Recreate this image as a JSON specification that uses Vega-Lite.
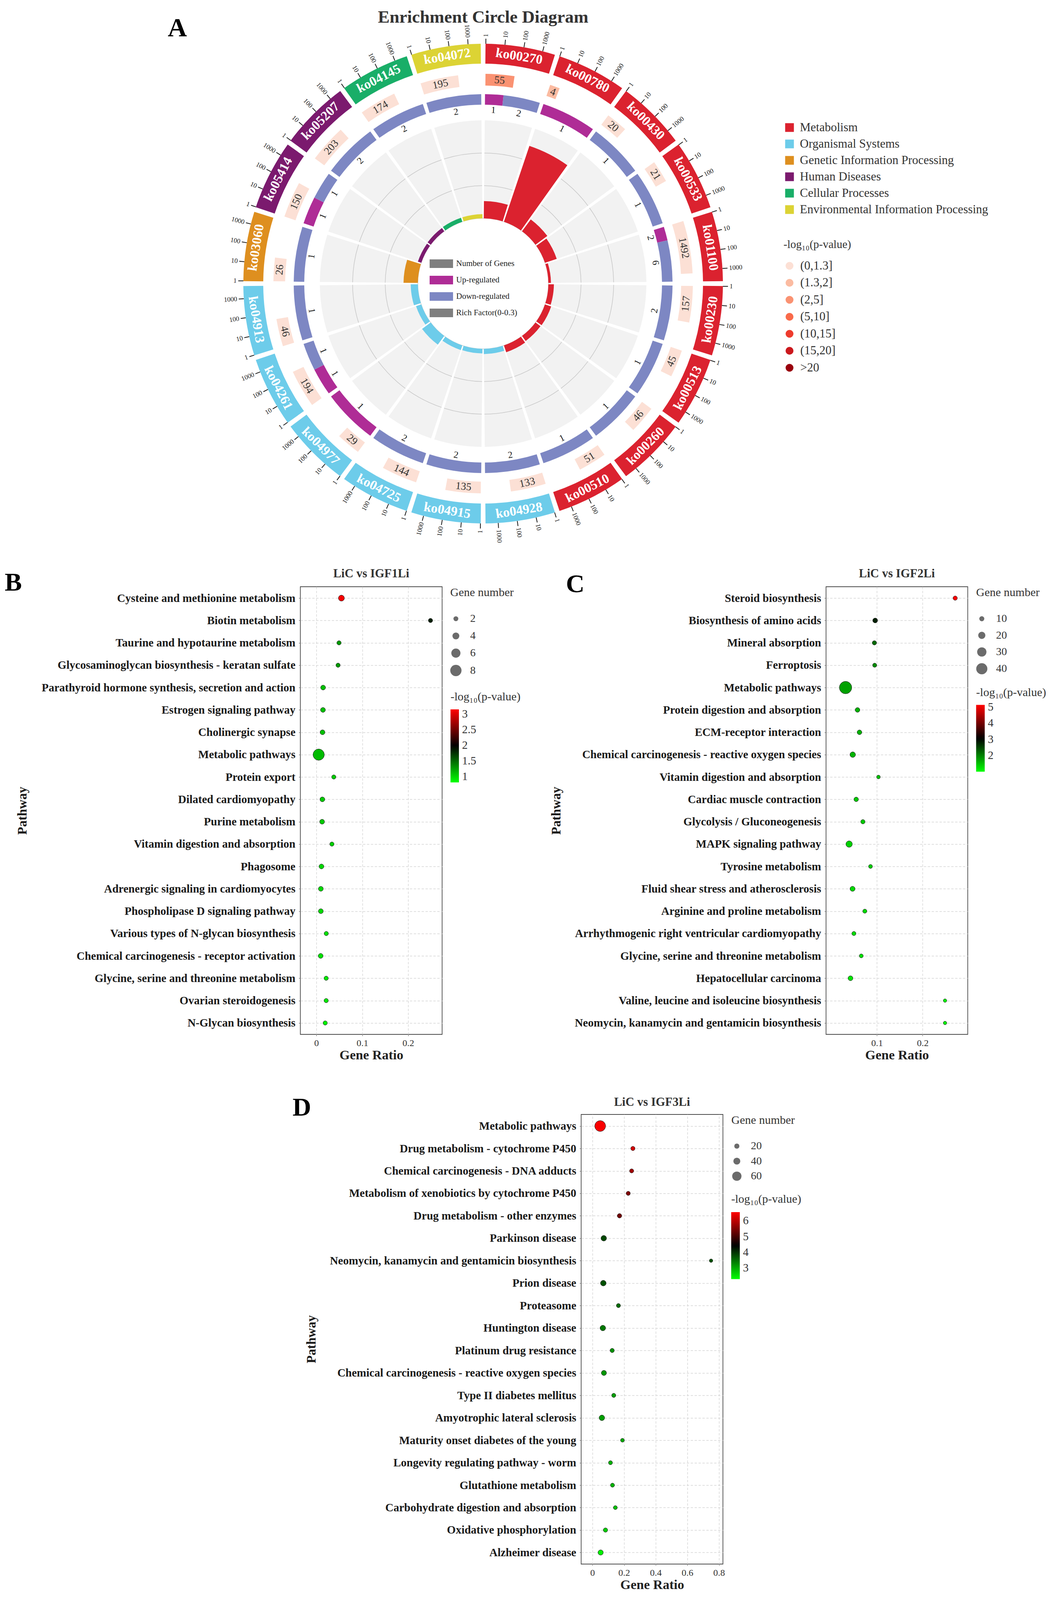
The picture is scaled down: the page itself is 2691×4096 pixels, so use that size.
{
"$schema":"https://vega.github.io/schema/vega-lite/v6.json",
"padding":0,
"background":"white",
"config":{"font":"Liberation Serif","view":{"stroke":null},
"title":{"font":"Liberation Serif","fontWeight":"bold","color":"#222222"},
"axis":{"labelFont":"Liberation Serif","titleFont":"Liberation Serif"},
"legend":{"labelFont":"Liberation Serif","titleFont":"Liberation Serif","labelLimit":0,"titleLimit":0,"padding":0}},
"datasets":{
"sectors":[
{"s":0,"id":"ko00270","cat":"Metabolism","genes":55,"gEnd":0.479,"gMid":0.2575,"pbin":"(2,5]","rf":0.053},
{"s":1,"id":"ko00780","cat":"Metabolism","genes":4,"gEnd":1.189,"gMid":1.1125,"pbin":"(1.3,2]","rf":0.245},
{"s":2,"id":"ko00430","cat":"Metabolism","genes":20,"gEnd":2.367,"gMid":2.2015,"pbin":"(0,1.3]","rf":0.045},
{"s":3,"id":"ko00533","cat":"Metabolism","genes":21,"gEnd":3.3725,"gMid":3.2043,"pbin":"(0,1.3]","rf":0.038},
{"s":4,"id":"ko01100","cat":"Metabolism","genes":1492,"gEnd":4.844,"gMid":4.44,"pbin":"(0,1.3]","rf":0.008},
{"s":5,"id":"ko00230","cat":"Metabolism","genes":157,"gEnd":5.595,"gMid":5.3155,"pbin":"(0,1.3]","rf":0.017},
{"s":6,"id":"ko00513","cat":"Metabolism","genes":45,"gEnd":6.457,"gMid":6.2465,"pbin":"(0,1.3]","rf":0.02},
{"s":7,"id":"ko00260","cat":"Metabolism","genes":46,"gEnd":7.459,"gMid":7.2475,"pbin":"(0,1.3]","rf":0.019},
{"s":8,"id":"ko00510","cat":"Metabolism","genes":51,"gEnd":8.471,"gMid":8.2535,"pbin":"(0,1.3]","rf":0.022},
{"s":9,"id":"ko04928","cat":"Organismal Systems","genes":133,"gEnd":9.577,"gMid":9.3065,"pbin":"(0,1.3]","rf":0.016},
{"s":10,"id":"ko04915","cat":"Organismal Systems","genes":135,"gEnd":10.578,"gMid":10.307,"pbin":"(0,1.3]","rf":0.014},
{"s":11,"id":"ko04725","cat":"Organismal Systems","genes":144,"gEnd":11.585,"gMid":11.3105,"pbin":"(0,1.3]","rf":0.015},
{"s":12,"id":"ko04977","cat":"Organismal Systems","genes":29,"gEnd":12.408,"gMid":12.222,"pbin":"(0,1.3]","rf":0.033},
{"s":13,"id":"ko04261","cat":"Organismal Systems","genes":194,"gEnd":13.618,"gMid":13.327,"pbin":"(0,1.3]","rf":0.017},
{"s":14,"id":"ko04913","cat":"Organismal Systems","genes":46,"gEnd":14.459,"gMid":14.2475,"pbin":"(0,1.3]","rf":0.022},
{"s":15,"id":"ko03060","cat":"Genetic Information Processing","genes":26,"gEnd":15.396,"gMid":15.216,"pbin":"(0,1.3]","rf":0.044},
{"s":16,"id":"ko05414","cat":"Human Diseases","genes":150,"gEnd":16.59,"gMid":16.313,"pbin":"(0,1.3]","rf":0.011},
{"s":17,"id":"ko05207","cat":"Human Diseases","genes":203,"gEnd":17.623,"gMid":17.3295,"pbin":"(0,1.3]","rf":0.012},
{"s":18,"id":"ko04145","cat":"Cellular Processes","genes":174,"gEnd":18.606,"gMid":18.321,"pbin":"(0,1.3]","rf":0.013},
{"s":19,"id":"ko04072","cat":"Environmental Information Processing","genes":195,"gEnd":19.619,"gMid":19.3275,"pbin":"(0,1.3]","rf":0.013}
],
"updown":[
{"s":0,"dir":"Up-regulated","n":1,"t0":0.032,"t1":0.344,"tm":0.188},
{"s":0,"dir":"Down-regulated","n":2,"t0":0.344,"t1":0.968,"tm":0.656},
{"s":1,"dir":"Up-regulated","n":1,"t0":1.032,"t1":1.968,"tm":1.5},
{"s":2,"dir":"Down-regulated","n":1,"t0":2.032,"t1":2.968,"tm":2.5},
{"s":3,"dir":"Down-regulated","n":1,"t0":3.032,"t1":3.968,"tm":3.5},
{"s":4,"dir":"Up-regulated","n":2,"t0":4.032,"t1":4.266,"tm":4.149},
{"s":4,"dir":"Down-regulated","n":6,"t0":4.266,"t1":4.968,"tm":4.617},
{"s":5,"dir":"Down-regulated","n":2,"t0":5.032,"t1":5.968,"tm":5.5},
{"s":6,"dir":"Down-regulated","n":1,"t0":6.032,"t1":6.968,"tm":6.5},
{"s":7,"dir":"Down-regulated","n":1,"t0":7.032,"t1":7.968,"tm":7.5},
{"s":8,"dir":"Down-regulated","n":1,"t0":8.032,"t1":8.968,"tm":8.5},
{"s":9,"dir":"Down-regulated","n":2,"t0":9.032,"t1":9.968,"tm":9.5},
{"s":10,"dir":"Down-regulated","n":2,"t0":10.032,"t1":10.968,"tm":10.5},
{"s":11,"dir":"Down-regulated","n":2,"t0":11.032,"t1":11.968,"tm":11.5},
{"s":12,"dir":"Up-regulated","n":1,"t0":12.032,"t1":12.968,"tm":12.5},
{"s":13,"dir":"Up-regulated","n":1,"t0":13.032,"t1":13.5,"tm":13.266},
{"s":13,"dir":"Down-regulated","n":1,"t0":13.5,"t1":13.968,"tm":13.734},
{"s":14,"dir":"Down-regulated","n":1,"t0":14.032,"t1":14.968,"tm":14.5},
{"s":15,"dir":"Down-regulated","n":1,"t0":15.032,"t1":15.968,"tm":15.5},
{"s":16,"dir":"Up-regulated","n":1,"t0":16.032,"t1":16.5,"tm":16.266},
{"s":16,"dir":"Down-regulated","n":1,"t0":16.5,"t1":16.968,"tm":16.734},
{"s":17,"dir":"Down-regulated","n":2,"t0":17.032,"t1":17.968,"tm":17.5},
{"s":18,"dir":"Down-regulated","n":2,"t0":18.032,"t1":18.968,"tm":18.5},
{"s":19,"dir":"Down-regulated","n":2,"t0":19.032,"t1":19.968,"tm":19.5}
],
"B":[
{"pathway":"Cysteine and methionine metabolism","ratio":0.0545,"count":3,"p":3.1},
{"pathway":"Biotin metabolism","ratio":0.2487,"count":1,"p":1.84},
{"pathway":"Taurine and hypotaurine metabolism","ratio":0.0493,"count":1,"p":1.28},
{"pathway":"Glycosaminoglycan biosynthesis - keratan sulfate","ratio":0.0472,"count":1,"p":1.28},
{"pathway":"Parathyroid hormone synthesis, secretion and action","ratio":0.0146,"count":2,"p":1.1},
{"pathway":"Estrogen signaling pathway","ratio":0.0143,"count":2,"p":1.1},
{"pathway":"Cholinergic synapse","ratio":0.0133,"count":2,"p":1.1},
{"pathway":"Metabolic pathways","ratio":0.005,"count":8,"p":1.12},
{"pathway":"Protein export","ratio":0.0379,"count":1,"p":1.06},
{"pathway":"Dilated cardiomyopathy","ratio":0.013,"count":2,"p":1.06},
{"pathway":"Purine metabolism","ratio":0.0124,"count":2,"p":1.06},
{"pathway":"Vitamin digestion and absorption","ratio":0.0338,"count":1,"p":1.02},
{"pathway":"Phagosome","ratio":0.011,"count":2,"p":1.0},
{"pathway":"Adrenergic signaling in cardiomyocytes","ratio":0.0097,"count":2,"p":0.99},
{"pathway":"Phospholipase D signaling pathway","ratio":0.0097,"count":2,"p":0.99},
{"pathway":"Various types of N-glycan biosynthesis","ratio":0.0215,"count":1,"p":0.95},
{"pathway":"Chemical carcinogenesis - receptor activation","ratio":0.0093,"count":2,"p":0.95},
{"pathway":"Glycine, serine and threonine metabolism","ratio":0.0213,"count":1,"p":0.92},
{"pathway":"Ovarian steroidogenesis","ratio":0.0213,"count":1,"p":0.92},
{"pathway":"N-Glycan biosynthesis","ratio":0.0192,"count":1,"p":0.88}
],
"C":[
{"pathway":"Steroid biosynthesis","ratio":0.2715,"count":6,"p":5.1},
{"pathway":"Biosynthesis of amino acids","ratio":0.0961,"count":9,"p":2.8},
{"pathway":"Mineral absorption","ratio":0.0944,"count":6,"p":2.2},
{"pathway":"Ferroptosis","ratio":0.095,"count":5,"p":1.93},
{"pathway":"Metabolic pathways","ratio":0.0312,"count":46,"p":1.75},
{"pathway":"Protein digestion and absorption","ratio":0.0574,"count":8,"p":1.62},
{"pathway":"ECM-receptor interaction","ratio":0.0617,"count":8,"p":1.62},
{"pathway":"Chemical carcinogenesis - reactive oxygen species","ratio":0.0469,"count":12,"p":1.59},
{"pathway":"Vitamin digestion and absorption","ratio":0.1033,"count":3,"p":1.49},
{"pathway":"Cardiac muscle contraction","ratio":0.0545,"count":7,"p":1.43},
{"pathway":"Glycolysis / Gluconeogenesis","ratio":0.0692,"count":6,"p":1.43},
{"pathway":"MAPK signaling pathway","ratio":0.039,"count":16,"p":1.36},
{"pathway":"Tyrosine metabolism","ratio":0.0859,"count":4,"p":1.4},
{"pathway":"Fluid shear stress and atherosclerosis","ratio":0.0465,"count":10,"p":1.3},
{"pathway":"Arginine and proline metabolism","ratio":0.0734,"count":5,"p":1.3},
{"pathway":"Arrhythmogenic right ventricular cardiomyopathy","ratio":0.0495,"count":5,"p":1.28},
{"pathway":"Glycine, serine and threonine metabolism","ratio":0.0656,"count":4,"p":1.23},
{"pathway":"Hepatocellular carcinoma","ratio":0.042,"count":9,"p":1.2},
{"pathway":"Valine, leucine and isoleucine biosynthesis","ratio":0.2492,"count":2,"p":1.1},
{"pathway":"Neomycin, kanamycin and gentamicin biosynthesis","ratio":0.2492,"count":2,"p":1.1}
],
"D":[
{"pathway":"Metabolic pathways","ratio":0.0492,"count":73,"p":6.5},
{"pathway":"Drug metabolism - cytochrome P450","ratio":0.256,"count":10,"p":6.16},
{"pathway":"Chemical carcinogenesis - DNA adducts","ratio":0.248,"count":9,"p":5.76},
{"pathway":"Metabolism of xenobiotics by cytochrome P450","ratio":0.2265,"count":9,"p":5.5},
{"pathway":"Drug metabolism - other enzymes","ratio":0.1714,"count":12,"p":5.36},
{"pathway":"Parkinson disease","ratio":0.0719,"count":24,"p":3.83},
{"pathway":"Neomycin, kanamycin and gentamicin biosynthesis","ratio":0.75,"count":3,"p":3.76},
{"pathway":"Prion disease","ratio":0.069,"count":25,"p":3.76},
{"pathway":"Proteasome","ratio":0.1645,"count":9,"p":3.54},
{"pathway":"Huntington disease","ratio":0.066,"count":24,"p":3.43},
{"pathway":"Platinum drug resistance","ratio":0.125,"count":10,"p":3.23},
{"pathway":"Chemical carcinogenesis - reactive oxygen species","ratio":0.0729,"count":20,"p":3.18},
{"pathway":"Type II diabetes mellitus","ratio":0.135,"count":9,"p":3.11},
{"pathway":"Amyotrophic lateral sclerosis","ratio":0.06,"count":24,"p":3.11},
{"pathway":"Maturity onset diabetes of the young","ratio":0.19,"count":6,"p":3.03},
{"pathway":"Longevity regulating pathway - worm","ratio":0.1143,"count":8,"p":2.96},
{"pathway":"Glutathione metabolism","ratio":0.127,"count":8,"p":2.93},
{"pathway":"Carbohydrate digestion and absorption","ratio":0.145,"count":7,"p":2.84},
{"pathway":"Oxidative phosphorylation","ratio":0.0827,"count":11,"p":2.73},
{"pathway":"Alzheimer disease","ratio":0.0522,"count":21,"p":2.43}
]
},
"columns":5,
"spacing":0,
"bounds":"flush",
"align":"each",
"resolve":{"scale":{"color":"independent","size":"independent","angle":"independent","radius":"independent","theta":"independent"}},
"concat":[
{"width":769,"height":1502,"data":{"values":[]},"mark":{"type":"point","opacity":0},
 "title":{"text":"A","anchor":"start","frame":"group","orient":"top","offset":-161,"dx":429.5,"fontSize":68,"fontWeight":"bold","baseline":"alphabetic","align":"left","color":"#000000"}},
{"width":467,"height":1,"data":{"values":[]},"mark":{"type":"point","opacity":0}},
{"width":2,"height":1452,
 "title":{"text":"Enrichment Circle Diagram","anchor":"middle","frame":"group","offset":-103,"baseline":"alphabetic","fontSize":45,"color":"#333333"},
 "resolve":{"scale":{"color":"independent","angle":"independent","radius":"independent"}},
 "layer":[
  {"data":{"name":"sectors"},"mark":{"type":"arc","radius":418,"radius2":167,"thetaOffset":0.010053,"theta2Offset":0.304106,"color":"#F2F2F2"},
   "encoding":{"theta":{"field":"s","type":"quantitative","scale":{"domain":[0,20],"range":[0,6.283185],"zero":false,"nice":false}},"theta2":{"field":"s"}}},
  {"data":{"name":"sectors"},"mark":{"type":"arc","radius":251.5,"radius2":250,"thetaOffset":0.010053,"theta2Offset":0.304106,"color":"#C8C8C8"},
   "encoding":{"theta":{"field":"s","type":"quantitative","scale":{"domain":[0,20],"range":[0,6.283185],"zero":false,"nice":false}},"theta2":{"field":"s"}}},
  {"data":{"name":"sectors"},"mark":{"type":"arc","radius":335,"radius2":333.5,"thetaOffset":0.010053,"theta2Offset":0.304106,"color":"#C8C8C8"},
   "encoding":{"theta":{"field":"s","type":"quantitative","scale":{"domain":[0,20],"range":[0,6.283185],"zero":false,"nice":false}},"theta2":{"field":"s"}}},
  {"data":{"values":[{}]},"mark":{"type":"arc","theta":0,"theta2":6.2832,"radius":168,"radius2":166.5,"color":"#D0D0D0"},"encoding":{}},
  {"data":{"name":"sectors"},"mark":{"type":"arc","thetaOffset":0.010053,"theta2Offset":0.304106},
   "encoding":{"theta":{"field":"s","type":"quantitative","scale":{"domain":[0,20],"range":[0,6.283185],"zero":false,"nice":false}},"theta2":{"field":"s"},
    "radius":{"field":"rf","type":"quantitative","scale":{"type":"linear","domain":[0,0.3],"range":[167,418],"zero":false,"nice":false}},
    "radius2":{"datum":0},
    "color":{"field":"cat","type":"nominal","scale":{"domain":["Metabolism","Organismal Systems","Genetic Information Processing","Human Diseases","Cellular Processes","Environmental Information Processing"],"range":["#DB222F","#6DCCEA","#DE8F1F","#7B1A6E","#19AE68","#DCD334"]},"legend":null}}},
  {"data":{"name":"updown"},"mark":{"type":"arc","radius":485,"radius2":458},
   "encoding":{"theta":{"field":"t0","type":"quantitative","scale":{"domain":[0,20],"range":[0,6.283185],"zero":false,"nice":false}},"theta2":{"field":"t1"},
    "color":{"field":"dir","type":"nominal","scale":{"domain":["Number of Genes","Up-regulated","Down-regulated","Rich Factor(0-0.3)"],"range":["#7F7F7F","#AF2C96","#7D87C3","#7F7F7F"]},
     "legend":{"title":null,"orient":"none","legendX":-136,"legendY":645,"symbolType":"M-1,-0.37H1V0.37H-1Z","symbolSize":3600,"labelFontSize":21,"labelColor":"#222222","labelOffset":8,"rowPadding":0,"symbolStrokeWidth":0,"symbolOpacity":1}}}},
  {"data":{"name":"updown"},"mark":{"type":"text","radius":444.5,"fontSize":24,"color":"#1A1A1A","align":"center","baseline":"middle"},
   "encoding":{"theta":{"field":"tm","type":"quantitative","scale":{"domain":[0,20],"range":[0,6.283185],"zero":false,"nice":false}},"text":{"field":"n"},
    "angle":{"field":"tm","type":"quantitative","scale":{"domain":[0,5,5.0001,15,15.0001,20],"range":[0,90,-89.998,90,-89.998,0],"zero":false,"nice":false}}}},
  {"data":{"name":"sectors"},"mark":{"type":"arc","radius":537,"radius2":507,"thetaOffset":0.01131},
   "encoding":{"theta":{"field":"s","type":"quantitative","scale":{"domain":[0,20],"range":[0,6.283185],"zero":false,"nice":false}},"theta2":{"field":"gEnd"},
    "color":{"field":"pbin","type":"nominal","scale":{"domain":["(0,1.3]","(1.3,2]","(2,5]","(5,10]","(10,15]","(15,20]",">20"],"range":["#FCE0D5","#FBBBA1","#FA9272","#F96A4A","#EE3B2D","#CB181D","#99000D"]},
     "legend":{"title":"-log₁₀(p-value)","orient":"none","legendX":770,"legendY":612,"symbolType":"circle","symbolSize":405,"labelFontSize":31,"labelColor":"#333333","labelOffset":12,"rowPadding":11.5,"titleFontSize":29,"titleFontWeight":"normal","titleColor":"#333333","titlePadding":24,"symbolStrokeWidth":0,"symbolOpacity":1}}}},
  {"data":{"name":"sectors"},"mark":{"type":"text","radius":522,"fontSize":27,"color":"#333333","align":"center","baseline":"middle"},
   "encoding":{"theta":{"field":"gMid","type":"quantitative","scale":{"domain":[0,20],"range":[0,6.283185],"zero":false,"nice":false}},"text":{"field":"genes"},
    "angle":{"field":"gMid","type":"quantitative","scale":{"domain":[0,5,5.0001,15,15.0001,20],"range":[0,90,-89.998,90,-89.998,0],"zero":false,"nice":false}}}},
  {"data":{"name":"sectors"},"mark":{"type":"arc","radius":614,"radius2":563,"thetaOffset":0.010053,"theta2Offset":0.304106},
   "encoding":{"theta":{"field":"s","type":"quantitative","scale":{"domain":[0,20],"range":[0,6.283185],"zero":false,"nice":false}},"theta2":{"field":"s"},
    "color":{"field":"cat","type":"nominal","scale":{"domain":["Metabolism","Organismal Systems","Genetic Information Processing","Human Diseases","Cellular Processes","Environmental Information Processing"],"range":["#DB222F","#6DCCEA","#DE8F1F","#7B1A6E","#19AE68","#DCD334"]},
     "legend":{"title":null,"orient":"none","legendX":770,"legendY":311,"symbolType":"square","symbolSize":500,"labelFontSize":31,"labelColor":"#333333","labelOffset":11,"rowPadding":10,"symbolStrokeWidth":0,"symbolOpacity":1}}}},
  {"data":{"name":"sectors"},"mark":{"type":"text","radius":588.5,"thetaOffset":0.15708,"fontSize":34,"fontWeight":"bold","color":"#FFFFFF","align":"center","baseline":"middle"},
   "encoding":{"theta":{"field":"s","type":"quantitative","scale":{"domain":[0,20],"range":[0,6.283185],"zero":false,"nice":false}},"text":{"field":"id"},
    "angle":{"field":"s","type":"quantitative","scale":{"domain":[0,4,5,14,15,19],"range":[9,81,-81,81,-81,-9],"zero":false,"nice":false}}}},
  {"data":{"name":"sectors"},"mark":{"type":"arc","radius":627,"radius2":614,"thetaOffset":0.00971,"theta2Offset":0.01291,"color":"#1A1A1A"},
   "encoding":{"theta":{"field":"s","type":"quantitative","scale":{"domain":[0,20],"range":[0,6.283185],"zero":false,"nice":false}},"theta2":{"field":"s"}}},
  {"data":{"name":"sectors"},"mark":{"type":"arc","radius":627,"radius2":614,"thetaOffset":0.089663,"theta2Offset":0.092863,"color":"#1A1A1A"},
   "encoding":{"theta":{"field":"s","type":"quantitative","scale":{"domain":[0,20],"range":[0,6.283185],"zero":false,"nice":false}},"theta2":{"field":"s"}}},
  {"data":{"name":"sectors"},"mark":{"type":"arc","radius":627,"radius2":614,"thetaOffset":0.169617,"theta2Offset":0.172817,"color":"#1A1A1A"},
   "encoding":{"theta":{"field":"s","type":"quantitative","scale":{"domain":[0,20],"range":[0,6.283185],"zero":false,"nice":false}},"theta2":{"field":"s"}}},
  {"data":{"name":"sectors"},"mark":{"type":"arc","radius":627,"radius2":614,"thetaOffset":0.24957,"theta2Offset":0.25277,"color":"#1A1A1A"},
   "encoding":{"theta":{"field":"s","type":"quantitative","scale":{"domain":[0,20],"range":[0,6.283185],"zero":false,"nice":false}},"theta2":{"field":"s"}}},
  {"data":{"name":"sectors"},"mark":{"type":"text","text":"1","radius":635.25,"thetaOffset":0.01131,"fontSize":17,"color":"#1A1A1A","align":"center","baseline":"middle"},
   "encoding":{"theta":{"field":"s","type":"quantitative","scale":{"domain":[0,20],"range":[0,6.283185],"zero":false,"nice":false}},
    "angle":{"field":"s","type":"quantitative","scale":{"domain":[0,9,10,19],"range":[-89.352,72.648,-89.352,72.648],"zero":false,"nice":false}}}},
  {"data":{"name":"sectors"},"mark":{"type":"text","text":"10","radius":639.5,"thetaOffset":0.091263,"fontSize":17,"color":"#1A1A1A","align":"center","baseline":"middle"},
   "encoding":{"theta":{"field":"s","type":"quantitative","scale":{"domain":[0,20],"range":[0,6.283185],"zero":false,"nice":false}},
    "angle":{"field":"s","type":"quantitative","scale":{"domain":[0,9,10,19],"range":[-84.771,77.229,-84.771,77.229],"zero":false,"nice":false}}}},
  {"data":{"name":"sectors"},"mark":{"type":"text","text":"100","radius":643.75,"thetaOffset":0.171217,"fontSize":17,"color":"#1A1A1A","align":"center","baseline":"middle"},
   "encoding":{"theta":{"field":"s","type":"quantitative","scale":{"domain":[0,20],"range":[0,6.283185],"zero":false,"nice":false}},
    "angle":{"field":"s","type":"quantitative","scale":{"domain":[0,9,10,19],"range":[-80.19,81.81,-80.19,81.81],"zero":false,"nice":false}}}},
  {"data":{"name":"sectors"},"mark":{"type":"text","text":"1000","radius":648,"thetaOffset":0.25117,"fontSize":17,"color":"#1A1A1A","align":"center","baseline":"middle"},
   "encoding":{"theta":{"field":"s","type":"quantitative","scale":{"domain":[0,20],"range":[0,6.283185],"zero":false,"nice":false}},
    "angle":{"field":"s","type":"quantitative","scale":{"domain":[0,9,10,19],"range":[-75.609,86.391,-75.609,86.391],"zero":false,"nice":false}}}}
 ]},
{"width":1,"height":1,"data":{"values":[]},"mark":{"type":"point","opacity":0}},
{"width":1,"height":1,"data":{"values":[]},"mark":{"type":"point","opacity":0}},
{"width":769,"height":1351,"data":{"values":[]},"mark":{"type":"point","opacity":0},
 "title":{"text":"B","anchor":"start","frame":"group","orient":"top","offset":-76,"dx":12,"fontSize":66,"fontWeight":"bold","baseline":"alphabetic","align":"left","color":"#000000"}},
{"width":363,"height":1146,"view":{"stroke":"#4D4D4D","strokeWidth":1.8},
 "title":{"text":"LiC vs IGF1Li","anchor":"middle","frame":"group","offset":-7,"baseline":"alphabetic","fontSize":31,"color":"#333333"},
 "data":{"name":"B"},
 "mark":{"type":"point","filled":true,"opacity":1,"stroke":"#1A1A1A","strokeWidth":1},
 "encoding":{
  "x":{"field":"ratio","type":"quantitative","scale":{"domain":[-0.035,0.274],"nice":false,"zero":false},
   "axis":{"title":"Gene Ratio","values":[0,0.1,0.2],"format":"~g","labelFlush":false,"grid":true,"gridDash":[6,4],"gridColor":"#D4D4D4","gridWidth":1.4,"domain":false,"ticks":true,"tickSize":4,"tickColor":"#555555","labelFontSize":24,"labelColor":"#333333","labelPadding":6,"titleFontSize":34,"titleFontWeight":"bold","titleColor":"#222222","titlePadding":2}},
  "y":{"field":"pathway","type":"nominal","sort":null,"scale":{"type":"point","padding":0.51},
   "axis":{"title":"Pathway","grid":true,"gridDash":[6,4],"gridColor":"#D4D4D4","gridWidth":1.4,"domain":false,"ticks":true,"tickSize":4,"tickColor":"#555555","labelFontSize":29,"labelFontWeight":"bold","labelColor":"#1A1A1A","labelPadding":9,"labelLimit":0,"titleFontSize":33,"titleFontWeight":"bold","titleColor":"#1A1A1A","titleX":-712,"titleY":573,"titleAngle":-90,"titleAlign":"center","titleBaseline":"middle"}},
  "size":{"field":"count","type":"quantitative","scale":{"type":"linear","domain":[1,2,4,6,8],"range":[119,154,311,547,830],"zero":false,"nice":false},
   "legend":{"title":"Gene number","orient":"none","legendX":383.75,"legendY":0,"values":[2,4,6,8],"symbolType":"circle","symbolFillColor":"#6B6B6B","symbolStrokeWidth":0,"symbolOpacity":1,"labelFontSize":28,"labelColor":"#333333","labelOffset":22,"titleFontSize":30,"titleFontWeight":"normal","titleColor":"#333333","titlePadding":38,"rowPadding":16}},
  "color":{"field":"p","type":"quantitative","scale":{"domain":[0.81,1.98,3.15],"range":["#00FF00","#000000","#FF0000"],"interpolate":"rgb"},
   "legend":{"title":"-log₁₀(p-value)","orient":"none","legendX":384.5,"legendY":267,"values":[1,1.5,2,2.5,3],"labelExpr":"format(datum.value, '.1~f')","direction":"vertical","gradientLength":187,"gradientThickness":21.5,"gradientStrokeWidth":0,"labelOverlap":false,"labelFontSize":29,"labelColor":"#333333","labelOffset":8,"titleFontSize":30,"titleFontWeight":"normal","titleColor":"#333333","titlePadding":17}}
 }},
{"width":252,"height":1,"data":{"values":[]},"mark":{"type":"point","opacity":0},
 "title":{"text":"C","anchor":"start","frame":"group","orient":"top","offset":-80,"dx":213,"fontSize":66,"fontWeight":"bold","baseline":"alphabetic","align":"left","color":"#000000"}},
{"width":626.7,"height":1,"data":{"values":[]},"mark":{"type":"point","opacity":0}},
{"width":362.8,"height":1146,"view":{"stroke":"#4D4D4D","strokeWidth":1.8},
 "title":{"text":"LiC vs IGF2Li","anchor":"middle","frame":"group","offset":-7,"baseline":"alphabetic","fontSize":31,"color":"#333333"},
 "data":{"name":"C"},
 "mark":{"type":"point","filled":true,"opacity":1,"stroke":"#1A1A1A","strokeWidth":1},
 "encoding":{
  "x":{"field":"ratio","type":"quantitative","scale":{"domain":[-0.0116,0.299],"nice":false,"zero":false},
   "axis":{"title":"Gene Ratio","values":[0.1,0.2],"format":"~g","labelFlush":false,"grid":true,"gridDash":[6,4],"gridColor":"#D4D4D4","gridWidth":1.4,"domain":false,"ticks":true,"tickSize":4,"tickColor":"#555555","labelFontSize":24,"labelColor":"#333333","labelPadding":6,"titleFontSize":34,"titleFontWeight":"bold","titleColor":"#222222","titlePadding":2}},
  "y":{"field":"pathway","type":"nominal","sort":null,"scale":{"type":"point","padding":0.51},
   "axis":{"title":"Pathway","grid":true,"gridDash":[6,4],"gridColor":"#D4D4D4","gridWidth":1.4,"domain":false,"ticks":true,"tickSize":4,"tickColor":"#555555","labelFontSize":29,"labelFontWeight":"bold","labelColor":"#1A1A1A","labelPadding":9,"labelLimit":0,"titleFontSize":33,"titleFontWeight":"bold","titleColor":"#1A1A1A","titleX":-691,"titleY":573,"titleAngle":-90,"titleAlign":"center","titleBaseline":"middle"}},
  "size":{"field":"count","type":"quantitative","scale":{"type":"linear","domain":[0,10,20,30,40,50],"range":[58,165,337,564,814,1134],"zero":false,"nice":false},
   "legend":{"title":"Gene number","orient":"none","legendX":384.3,"legendY":0,"values":[10,20,30,40],"symbolType":"circle","symbolFillColor":"#6B6B6B","symbolStrokeWidth":0,"symbolOpacity":1,"labelFontSize":28,"labelColor":"#333333","labelOffset":22,"titleFontSize":30,"titleFontWeight":"normal","titleColor":"#333333","titlePadding":38,"rowPadding":14.5}},
  "color":{"field":"p","type":"quantitative","scale":{"domain":[0.98,3.06,5.14],"range":["#00FF00","#000000","#FF0000"],"interpolate":"rgb"},
   "legend":{"title":"-log₁₀(p-value)","orient":"none","legendX":384.3,"legendY":255.6,"values":[2,3,4,5],"labelExpr":"format(datum.value, '.1~f')","direction":"vertical","gradientLength":171,"gradientThickness":22,"gradientStrokeWidth":0,"labelOverlap":false,"labelFontSize":29,"labelColor":"#333333","labelOffset":8,"titleFontSize":30,"titleFontWeight":"normal","titleColor":"#333333","titlePadding":17}}
 }},
{"width":769,"height":1151,"data":{"values":[]},"mark":{"type":"point","opacity":0},
 "title":{"text":"D","anchor":"start","frame":"group","orient":"top","offset":-69,"dx":749,"fontSize":66,"fontWeight":"bold","baseline":"alphabetic","align":"left","color":"#000000"}},
{"width":1,"height":1,"data":{"values":[]},"mark":{"type":"point","opacity":0}},
{"width":1,"height":1,"data":{"values":[]},"mark":{"type":"point","opacity":0}},
{"width":363,"height":1151,"view":{"stroke":"#4D4D4D","strokeWidth":1.8},
 "title":{"text":"LiC vs IGF3Li","anchor":"middle","frame":"group","offset":-9,"baseline":"alphabetic","fontSize":31,"color":"#333333"},
 "data":{"name":"D"},
 "mark":{"type":"point","filled":true,"opacity":1,"stroke":"#1A1A1A","strokeWidth":1},
 "encoding":{
  "x":{"field":"ratio","type":"quantitative","scale":{"domain":[-0.071,0.825],"nice":false,"zero":false},
   "axis":{"title":"Gene Ratio","values":[0,0.2,0.4,0.6,0.8],"format":"~g","labelFlush":false,"grid":true,"gridDash":[6,4],"gridColor":"#D4D4D4","gridWidth":1.4,"domain":false,"ticks":true,"tickSize":4,"tickColor":"#555555","labelFontSize":24,"labelColor":"#333333","labelPadding":6,"titleFontSize":34,"titleFontWeight":"bold","titleColor":"#222222","titlePadding":2}},
  "y":{"field":"pathway","type":"nominal","sort":null,"scale":{"type":"point","padding":0.515},
   "axis":{"title":"Pathway","grid":true,"gridDash":[6,4],"gridColor":"#D4D4D4","gridWidth":1.4,"domain":false,"ticks":true,"tickSize":4,"tickColor":"#555555","labelFontSize":29,"labelFontWeight":"bold","labelColor":"#1A1A1A","labelPadding":9,"labelLimit":0,"titleFontSize":33,"titleFontWeight":"bold","titleColor":"#1A1A1A","titleX":-691,"titleY":575,"titleAngle":-90,"titleAlign":"center","titleBaseline":"middle"}},
  "size":{"field":"count","type":"quantitative","scale":{"type":"linear","domain":[0,20,40,60,80],"range":[64,172,314,564,881],"zero":false,"nice":false},
   "legend":{"title":"Gene number","orient":"none","legendX":384.6,"legendY":0,"values":[20,40,60],"symbolType":"circle","symbolFillColor":"#6B6B6B","symbolStrokeWidth":0,"symbolOpacity":1,"labelFontSize":28,"labelColor":"#333333","labelOffset":22,"titleFontSize":30,"titleFontWeight":"normal","titleColor":"#333333","titlePadding":37,"rowPadding":10.5}},
  "color":{"field":"p","type":"quantitative","scale":{"domain":[2.3,4.43,6.55],"range":["#00FF00","#000000","#FF0000"],"interpolate":"rgb"},
   "legend":{"title":"-log₁₀(p-value)","orient":"none","legendX":384.2,"legendY":202,"values":[3,4,5,6],"labelExpr":"format(datum.value, '.1~f')","direction":"vertical","gradientLength":171.5,"gradientThickness":22,"gradientStrokeWidth":0,"labelOverlap":false,"labelFontSize":29,"labelColor":"#333333","labelOffset":8,"titleFontSize":30,"titleFontWeight":"normal","titleColor":"#333333","titlePadding":18}}
 }},
{"width":1,"height":1,"data":{"values":[]},"mark":{"type":"point","opacity":0}}
]
}
